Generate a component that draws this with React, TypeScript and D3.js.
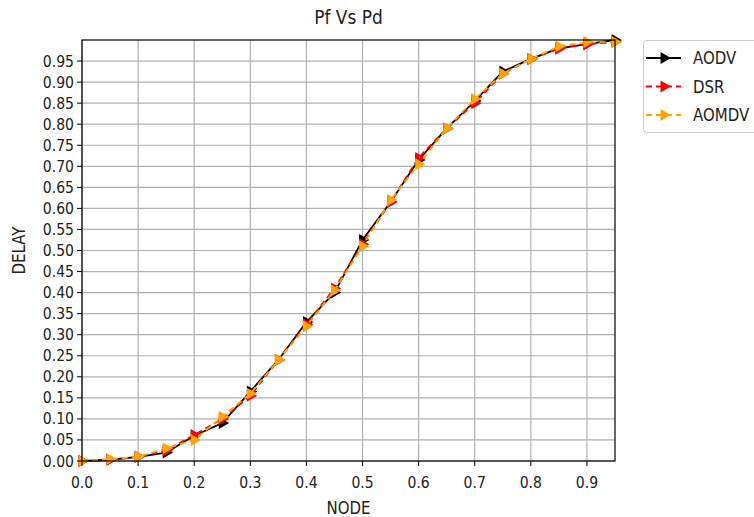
import React, { useEffect, useRef } from 'react';
import * as d3 from 'd3';

const xValues = [0, 0.05, 0.1, 0.15, 0.2, 0.25, 0.3, 0.35, 0.4, 0.45, 0.5, 0.55, 0.6, 0.65, 0.7, 0.75, 0.8, 0.85, 0.9, 0.95];
const aodv = [0, 0.003, 0.01, 0.02, 0.06, 0.09, 0.165, 0.24, 0.33, 0.4, 0.525, 0.615, 0.715, 0.79, 0.855, 0.925, 0.955, 0.98, 0.99, 1.0];
const dsr = [0, 0.003, 0.01, 0.025, 0.062, 0.1, 0.155, 0.24, 0.325, 0.41, 0.515, 0.615, 0.72, 0.79, 0.85, 0.92, 0.955, 0.98, 0.99, 0.995];
const aomdv = [0, 0.005, 0.01, 0.03, 0.05, 0.105, 0.16, 0.24, 0.32, 0.405, 0.51, 0.62, 0.705, 0.79, 0.86, 0.92, 0.955, 0.985, 0.995, 0.995];
const xTicks = [0, 0.1, 0.2, 0.3, 0.4, 0.5, 0.6, 0.7, 0.8, 0.9];
const yTicks = d3.range(0, 20).map(i => i * 0.05);

const seriesNames = ['AODV', 'DSR', 'AOMDV'];
const seriesData = [aodv, dsr, aomdv];
const seriesColors = ['#000000', '#ff0000', '#ffa500'];
const seriesDash = [null, '6,4', '6,4'];

function App() {
  const ref = useRef<SVGSVGElement>(null);
  const width = 754;
  const height = 517;
  const margin = { top: 40, right: 139, bottom: 56, left: 82 };

  useEffect(() => {
    const svg = d3.select(ref.current);
    svg.selectAll('*').remove();

    const font = 'DejaVu Sans, sans-serif';
    const x = d3.scaleLinear().domain([0, 0.95]).range([margin.left, width - margin.right]);
    const y = d3.scaleLinear().domain([0, 1.0]).range([height - margin.bottom, margin.top]);

    // text is slightly taller than it is wide in the reference
    const stretched = (g: any, tx: number, ty: number, str: string, size: number, anchor: string, rot = 0) => {
      g.append('text')
        .attr('transform', `translate(${tx},${ty}) rotate(${rot}) scale(1,1.15)`)
        .attr('text-anchor', anchor)
        .attr('font-family', font)
        .attr('font-size', size)
        .attr('fill', '#222')
        .text(str);
    };

    svg.append('rect').attr('width', width).attr('height', height).attr('fill', '#fff');

    // grid
    const grid = svg.append('g').attr('stroke', '#b0b0b0').attr('stroke-width', 1.2);
    xTicks.forEach(t => {
      grid.append('line').attr('x1', x(t)).attr('x2', x(t)).attr('y1', y(0)).attr('y2', y(1));
    });
    yTicks.forEach(t => {
      grid.append('line').attr('x1', x(0)).attr('x2', x(0.95)).attr('y1', y(t)).attr('y2', y(t));
    });

    // series
    const line = d3.line<number>().x((_, i) => x(xValues[i])).y(d => y(d));
    const tri = d3.symbol().type(d3.symbolTriangle).size(62);
    seriesData.forEach((vals, si) => {
      const g = svg.append('g');
      g.append('path')
        .datum(vals)
        .attr('d', line)
        .attr('fill', 'none')
        .attr('stroke', seriesColors[si])
        .attr('stroke-width', 1.8)
        .attr('stroke-dasharray', seriesDash[si]);
      g.selectAll('path.m')
        .data(vals)
        .enter()
        .append('path')
        .attr('class', 'm')
        .attr('d', tri)
        .attr('transform', (d, i) => `translate(${x(xValues[i])},${y(d)}) rotate(90)`)
        .attr('fill', seriesColors[si]);
    });

    // frame
    svg.append('rect')
      .attr('x', x(0)).attr('y', y(1))
      .attr('width', x(0.95) - x(0)).attr('height', y(0) - y(1))
      .attr('fill', 'none').attr('stroke', '#000').attr('stroke-width', 1.2);

    // ticks
    const axes = svg.append('g');
    xTicks.forEach(t => {
      axes.append('line').attr('x1', x(t)).attr('x2', x(t)).attr('y1', y(0)).attr('y2', y(0) + 5).attr('stroke', '#000');
      stretched(axes, x(t), y(0) + 27, d3.format('.1f')(t), 14, 'middle');
    });
    yTicks.forEach(t => {
      axes.append('line').attr('x1', x(0) - 5).attr('x2', x(0)).attr('y1', y(t)).attr('y2', y(t)).attr('stroke', '#000');
      stretched(axes, x(0) - 8, y(t) + 5.5, d3.format('.2f')(t), 14, 'end');
    });

    // labels
    stretched(svg, (x(0) + x(0.95)) / 2, 24, 'Pf Vs Pd', 17, 'middle');
    stretched(svg, (x(0) + x(0.95)) / 2, 514, 'NODE', 15, 'middle');
    stretched(svg, 25, (y(0) + y(1)) / 2, 'DELAY', 15, 'middle', -90);

    // legend
    const lg = svg.append('g');
    lg.append('rect')
      .attr('x', 643.5).attr('y', 40.5).attr('width', 120).attr('height', 92)
      .attr('rx', 3).attr('fill', '#fff').attr('stroke', '#cccccc');
    seriesNames.forEach((name, i) => {
      const ly = 58 + i * 28.5;
      lg.append('line')
        .attr('x1', 646).attr('x2', 681).attr('y1', ly).attr('y2', ly)
        .attr('stroke', seriesColors[i]).attr('stroke-width', 2)
        .attr('stroke-dasharray', seriesDash[i]);
      lg.append('path')
        .attr('d', tri)
        .attr('transform', `translate(664,${ly}) rotate(90)`)
        .attr('fill', seriesColors[i]);
      stretched(lg, 693, ly + 6, name, 15, 'start');
    });
  }, []);

  return (
    <svg
      ref={ref}
      width={width}
      height={height}
      style={{ position: 'absolute', left: 0, top: 0 }}
    ></svg>
  );
}

export default App;
